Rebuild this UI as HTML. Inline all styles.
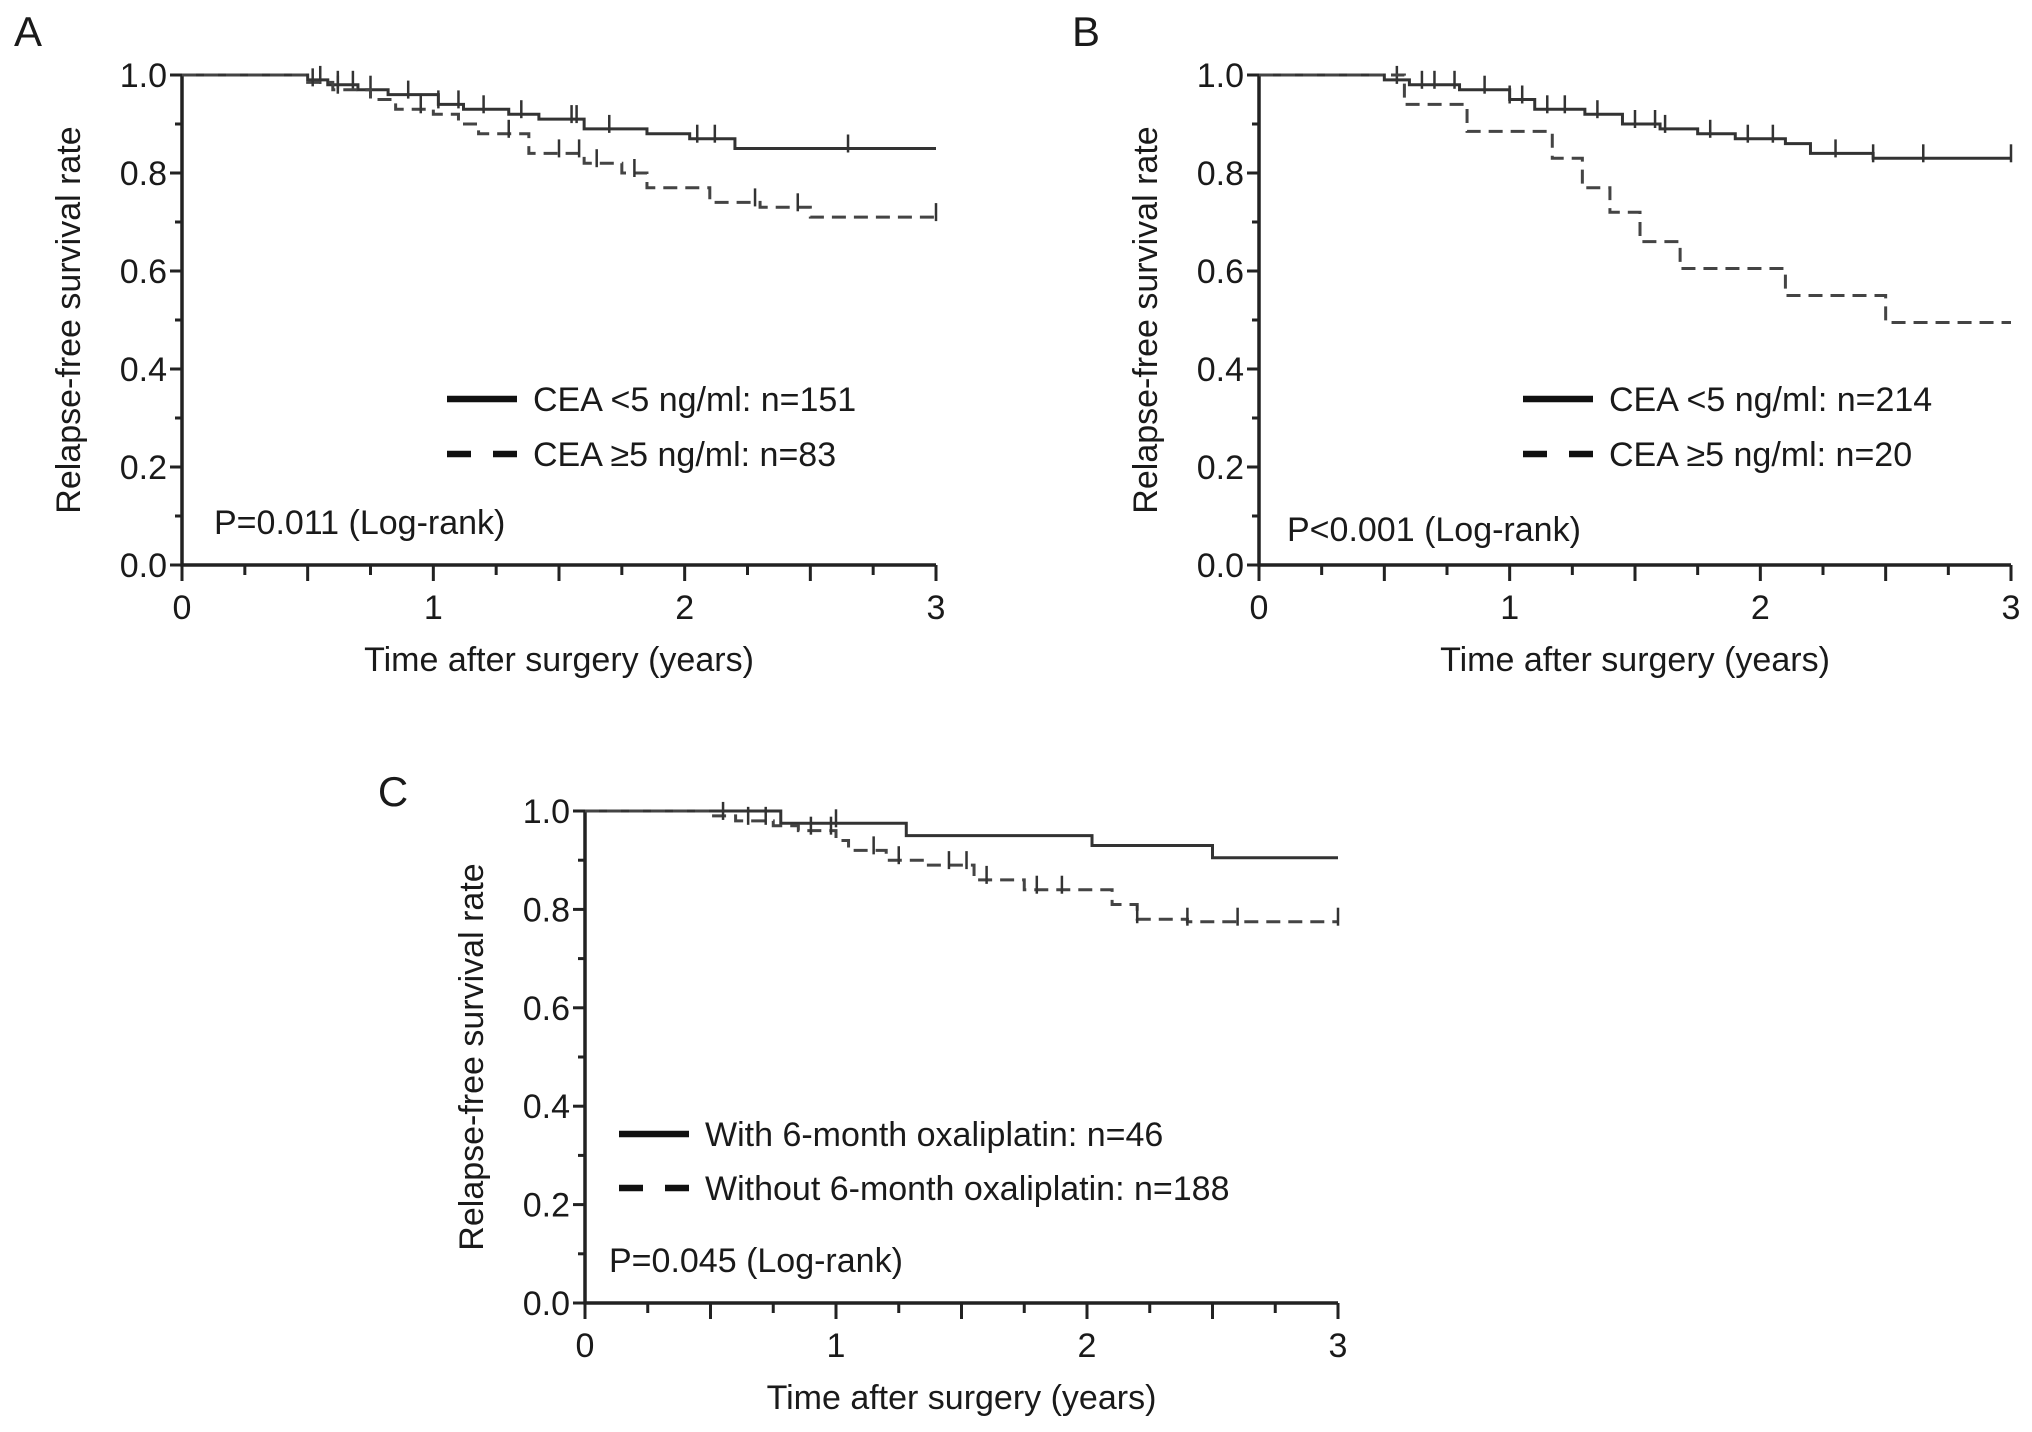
<!DOCTYPE html>
<html><head><meta charset="utf-8"><style>
html,body{margin:0;padding:0;background:#fff;}
svg{display:block;font-family:"Liberation Sans",Arial,sans-serif;}
</style></head><body>
<svg id="fig" width="2032" height="1432" viewBox="0 0 2032 1432" xmlns="http://www.w3.org/2000/svg"></svg>
<script>
// ---- data ----
const xTicks = [0, 1, 2, 3];
const yTicks = [0.0, 0.2, 0.4, 0.6, 0.8, 1.0];
const yTickLabels = ["0.0", "0.2", "0.4", "0.6", "0.8", "1.0"];
// Panel A
const aSolidT = [0, 0.5, 0.58, 0.7, 0.82, 1.02, 1.12, 1.3, 1.42, 1.6, 1.85, 2.02, 2.2];
const aSolidS = [1, 0.99, 0.98, 0.97, 0.96, 0.94, 0.93, 0.92, 0.91, 0.89, 0.88, 0.87, 0.85];
const aSolidCens = [0.55, 0.62, 0.68, 0.75, 0.9, 1.02, 1.1, 1.2, 1.35, 1.55, 1.57, 1.7, 2.05, 2.12, 2.65];
const aDashT = [0, 0.5, 0.6, 0.75, 0.85, 1.0, 1.1, 1.18, 1.38, 1.6, 1.75, 1.85, 2.1, 2.3, 2.5];
const aDashS = [1, 0.985, 0.97, 0.95, 0.93, 0.92, 0.9, 0.88, 0.84, 0.82, 0.8, 0.77, 0.74, 0.73, 0.71];
const aDashCens = [0.52, 0.62, 0.95, 1.3, 1.5, 1.58, 1.65, 1.8, 2.28, 2.45, 3.0];
// Panel B
const bSolidT = [0, 0.5, 0.6, 0.8, 1.0, 1.1, 1.3, 1.45, 1.6, 1.75, 1.9, 2.1, 2.2, 2.45];
const bSolidS = [1, 0.99, 0.98, 0.97, 0.95, 0.93, 0.92, 0.9, 0.89, 0.88, 0.87, 0.86, 0.84, 0.83];
const bSolidCens = [0.55, 0.65, 0.7, 0.78, 0.9, 1.0, 1.05, 1.15, 1.22, 1.35, 1.5, 1.58, 1.62, 1.8, 1.95, 2.05, 2.3, 2.45, 2.65, 3.0];
const bDashT = [0, 0.58, 0.83, 1.17, 1.29, 1.4, 1.52, 1.68, 2.1, 2.5];
const bDashS = [1, 0.94, 0.885, 0.83, 0.77, 0.72, 0.66, 0.605, 0.55, 0.495];
const bDashCens = [];
// Panel C
const cSolidT = [0, 0.78, 1.28, 2.02, 2.5];
const cSolidS = [1, 0.975, 0.95, 0.93, 0.905];
const cSolidCens = [1.0];
const cDashT = [0, 0.5, 0.6, 0.75, 0.85, 1.0, 1.05, 1.2, 1.35, 1.55, 1.75, 2.1, 2.2, 2.4];
const cDashS = [1, 0.99, 0.98, 0.97, 0.96, 0.94, 0.92, 0.9, 0.89, 0.86, 0.84, 0.81, 0.78, 0.775];
const cDashCens = [0.55, 0.65, 0.72, 0.9, 0.98, 1.15, 1.25, 1.45, 1.52, 1.6, 1.8, 1.9, 2.2, 2.4, 2.6, 3.0];

const NS = "http://www.w3.org/2000/svg";
const svg = document.getElementById("fig");
const FS = 34;
function mk(tag, attrs, parent) {
  const e = document.createElementNS(NS, tag);
  for (const k in attrs) e.setAttribute(k, attrs[k]);
  (parent || svg).appendChild(e);
  return e;
}
function txt(s, x, y, size, anchor, parent, extra) {
  const t = mk("text", Object.assign({x: x, y: y, "font-size": size, "text-anchor": anchor || "start", fill: "#1a1a1a"}, extra || {}), parent);
  t.textContent = s;
  return t;
}

function panel(p) {
  const g = mk("g", {});
  
  
  const sx = v => p.x0 + (p.x1 - p.x0) * v / 3;
  const sy = v => p.y0 + (p.y1 - p.y0) * v;
  const L = txt(p.letter, p.lx, p.ly, 42, "middle", g);
  
  
  const ax = mk("path", {d: `M${p.x0} ${sy(1)} L${p.x0} ${p.y0} L${p.x1} ${p.y0}`, stroke: "#222", "stroke-width": 3.5, fill: "none"}, g);
  
  
  for (let i = 0; i <= 10; i++) {
    const y = sy(i / 10);
    mk("line", {x1: p.x0 - (i % 2 === 0 ? 12 : 7), x2: p.x0, y1: y, y2: y, stroke: "#222", "stroke-width": 3}, g);
  }
  yTicks.forEach((v, i) => {
    const t = txt(yTickLabels[i], p.x0 - 15, sy(v) + 12, FS, "end", g);
    
    
  });
  for (let i = 0; i <= 12; i++) {
    const x = sx(i / 4);
    mk("line", {x1: x, x2: x, y1: p.y0, y2: p.y0 + (i % 2 === 0 ? 16 : 10), stroke: "#222", "stroke-width": 3}, g);
  }
  xTicks.forEach(v => {
    const t = txt(String(v), sx(v), p.y0 + 54, FS, "middle", g);
    
    
  });
  const xt = txt("Time after surgery (years)", (p.x0 + p.x1) / 2, p.y0 + 106, FS, "middle", g);
  
  
  const ycx = p.ytx, ycy = (p.y0 + sy(1)) / 2;
  const yt = txt("Relapse-free survival rate", ycx, ycy, FS, "middle", g, {transform: `rotate(-90 ${ycx} ${ycy})`});
  
  

  function curve(T, S, cens, dashed, name) {
    let d = `M${sx(T[0])} ${sy(S[0])}`;
    for (let i = 1; i < T.length; i++) d += ` H${sx(T[i])} V${sy(S[i])}`;
    d += ` H${sx(3)}`;
    const attrs = {d: d, stroke: dashed ? "#444" : "#333", "stroke-width": 3, fill: "none"};
    if (dashed) attrs["stroke-dasharray"] = "14 8";
    const c = mk("path", attrs, g);
    
    
    cens.forEach(t => {
      let s = S[0];
      for (let i = 0; i < T.length; i++) if (T[i] <= t) s = S[i];
      const m = mk("line", {x1: sx(t), x2: sx(t), y1: sy(s) + 4, y2: sy(s) - 14, stroke: "#333", "stroke-width": 2.5}, g);
      
      
    });
  }
  curve(p.sT, p.sS, p.sC, false, 'solid-curve');
  curve(p.dT, p.dS, p.dC, true, 'dashed-curve');

  const lg = mk("g", {}, g);
  
  
  mk("line", {x1: p.legX, x2: p.legX + 70, y1: p.legY1, y2: p.legY1, stroke: "#111", "stroke-width": 6.5}, lg);
  mk("line", {x1: p.legX, x2: p.legX + 70, y1: p.legY2, y2: p.legY2, stroke: "#111", "stroke-width": 6.5, "stroke-dasharray": "24 22"}, lg);
  const l1 = txt(p.leg1, p.legX + 86, p.legY1 + 12, FS, "start", lg);
  
  
  const l2 = txt(p.leg2, p.legX + 86, p.legY2 + 12, FS, "start", lg);
  
  
  const pv = txt(p.pval, p.px, p.py + 12, FS, "start", g);
  
  
}

panel({id: "a", letter: "A", lx: 28, ly: 46, x0: 182, x1: 936, y0: 565, y1: 75, ytx: 80,
  sT: aSolidT, sS: aSolidS, sC: aSolidCens, dT: aDashT, dS: aDashS, dC: aDashCens,
  legX: 447, legY1: 399, legY2: 454, leg1: "CEA <5 ng/ml: n=151", leg2: "CEA \u22655 ng/ml: n=83",
  pval: "P=0.011 (Log-rank)", px: 214, py: 522});
panel({id: "b", letter: "B", lx: 1086, ly: 46, x0: 1259, x1: 2011, y0: 565, y1: 75, ytx: 1157,
  sT: bSolidT, sS: bSolidS, sC: bSolidCens, dT: bDashT, dS: bDashS, dC: bDashCens,
  legX: 1523, legY1: 399, legY2: 454, leg1: "CEA <5 ng/ml: n=214", leg2: "CEA \u22655 ng/ml: n=20",
  pval: "P<0.001 (Log-rank)", px: 1287, py: 529});
panel({id: "c", letter: "C", lx: 393, ly: 806, x0: 585, x1: 1338, y0: 1303, y1: 811, ytx: 483,
  sT: cSolidT, sS: cSolidS, sC: cSolidCens, dT: cDashT, dS: cDashS, dC: cDashCens,
  legX: 619, legY1: 1134, legY2: 1188, leg1: "With 6-month oxaliplatin: n=46", leg2: "Without 6-month oxaliplatin: n=188",
  pval: "P=0.045 (Log-rank)", px: 609, py: 1260});
</script>
</body></html>
